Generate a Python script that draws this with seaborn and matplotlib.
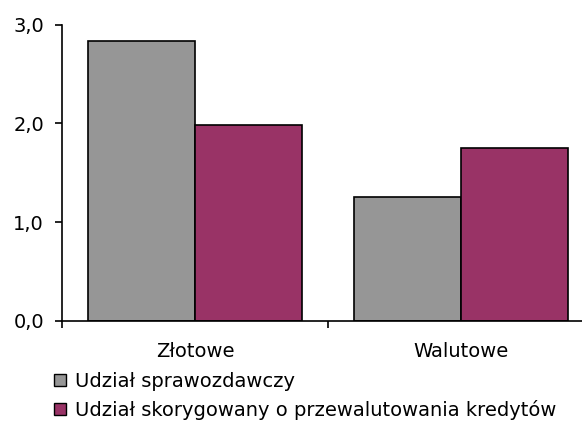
import matplotlib
matplotlib.use("Agg")
import matplotlib.pyplot as plt
import seaborn as sns
import pandas as pd
from matplotlib.patches import Patch

categories = ["Złotowe", "Walutowe"]
series_names = ["Udział sprawozdawczy", "Udział skorygowany o przewalutowania kredytów"]
values_reported = [2.84, 1.26]
values_adjusted = [1.98, 1.75]
yticks = [0.0, 1.0, 2.0, 3.0]
ytick_labels = ["0,0", "1,0", "2,0", "3,0"]
colors = ["#969696", "#993366"]

df = pd.DataFrame({
    "kategoria": categories * 2,
    "seria": [series_names[0]] * 2 + [series_names[1]] * 2,
    "wartosc": values_reported + values_adjusted,
})

sns.set_style("white")
plt.rcParams["font.family"] = ["DejaVu Sans"]
plt.rcParams["text.color"] = "black"
plt.rcParams["xtick.color"] = "black"
plt.rcParams["ytick.color"] = "black"
plt.rcParams["axes.labelcolor"] = "black"

FS = 14

fig = plt.figure(figsize=(5.82, 4.25), dpi=100)
W, H = 582, 425
ax = fig.add_axes([62 / W, 1 - 321 / H, 532 / W, (321 - 24.7) / H])

sns.barplot(data=df, x="kategoria", y="wartosc", hue="seria", order=categories,
            hue_order=series_names, palette=colors, width=0.805,
            edgecolor="black", linewidth=1.2, saturation=1, ax=ax, legend=False)

ax.set_xlim(-0.5, 1.5)
ax.set_ylim(0, 3.0)
ax.set_yticks(yticks, ytick_labels)
ax.set_xticks([0, 1], categories)
ax.set_xticks([-0.5, 0.5, 1.5], minor=True)
ax.tick_params(axis="x", which="major", length=0, pad=15, labelsize=FS)
ax.tick_params(axis="x", which="minor", length=5, width=1.2, direction="out", color="black", bottom=True)
ax.tick_params(axis="y", which="major", length=5, width=1.2, direction="out", color="black", left=True,
               pad=8, labelsize=FS)
ax.set_xlabel("")
ax.set_ylabel("")
for s in ["top", "right"]:
    ax.spines[s].set_visible(False)
for s in ["left", "bottom"]:
    ax.spines[s].set_color("black")
    ax.spines[s].set_linewidth(1.2)
ax.grid(False)

handles = [Patch(facecolor=c, edgecolor="black", linewidth=1.0) for c in colors]
fig.legend(handles, series_names, loc="upper left", bbox_to_anchor=(54 / W, 1 - 372 / H),
           frameon=False, fontsize=FS, handlelength=0.6, handleheight=0.6,
           handletextpad=0.5, labelspacing=0.45, borderaxespad=0, borderpad=0)

fig.savefig("out.png", dpi=100)
